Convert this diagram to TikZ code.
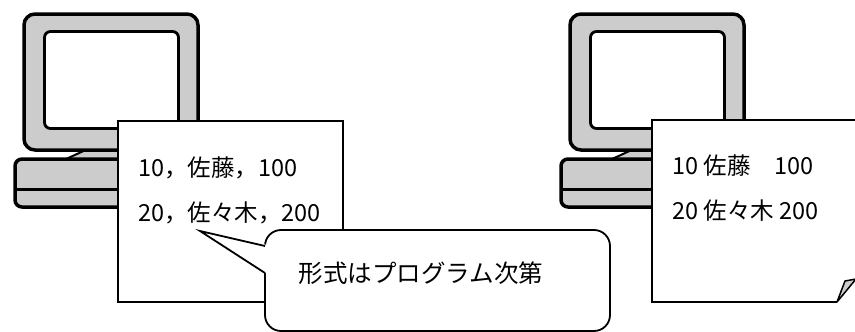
\documentclass[tikz,border=0pt]{standalone}
\usepackage{fontspec}
\setmainfont{Noto Sans CJK JP}
\usepackage{xcolor}
\usepackage{tikz}
\definecolor{PCGray}{RGB}{204,204,204}

\begin{document}
\begin{tikzpicture}[x=1pt,y=-1pt,
    pcline/.style={draw=black, line width=3.5pt, fill=PCGray},
    sheet/.style={draw=black, line width=1.8pt, fill=white},
    rowtext/.style={anchor=west, inner sep=0pt, font=\fontsize{23.5}{27}\selectfont}]
  \path[use as bounding box] (0,0) rectangle (855,332);

  % the two PCs, the second one shifted to the right
  \foreach \dx in {0,546}{
    \begin{scope}[xshift=\dx]
      \draw[draw=black, line width=2pt, fill=PCGray] (64,160) -- (90,148) -- (140,148) -- (140,160) -- cycle;
      \draw[pcline, rounded corners=11] (24,14) rectangle (198,150);
      \draw[black, line width=2.8pt, fill=white, rounded corners=6] (44.5,31.5) rectangle (178.5,128.5);
      \draw[pcline, rounded corners=7] (15,159) rectangle (140,207);
      \draw[black, line width=3pt] (15,189) -- (140,189);
    \end{scope}
  }

  % data sheet with separators
  \draw[sheet] (118,121) rectangle (343,302);
  \node[rowtext] (lrow1) at (138,168) {10，佐藤，100};
  \node[rowtext] (lrow2) at (138,213) {20，佐々木，200};

  % speech bubble
  \node[sheet, rounded corners=16, minimum width=345, minimum height=101, inner sep=0pt] (memo) at (437.5,280.5) {};
  \coordinate (tip) at (200,231);
  \fill[white] (tip) -- (267.5,245) -- (267.5,274) -- cycle;
  \draw[line width=1.8pt] (265,246) -- (tip) -- (265,273);
  \node[inner sep=0pt, font=\fontsize{24.5}{28}\selectfont] (memotext) at (421,273) {形式はプログラム次第};

  % fixed-width sheet with a curled corner
  \fill[white] (652,120) -- (862,120) -- (862,279) -- (855,279) -- (837,302) -- (652,302) -- cycle;
  \draw[line width=1.8pt] (837,302) -- (652,302) -- (652,120) -- (862,120);
  \draw[line width=1.5pt, fill=PCGray, line join=round] (837,302) -- (845,281) -- (856,279) -- cycle;
  \node[rowtext] (rrow1) at (672,166) {10 佐藤　100};
  \node[rowtext] (rrow2) at (672,211) {20 佐々木 200};
\end{tikzpicture}
\end{document}
